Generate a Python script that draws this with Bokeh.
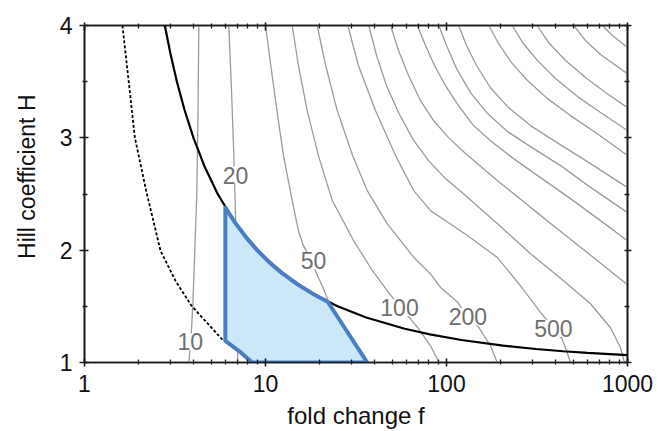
from bokeh.plotting import figure
from bokeh.models import (Range1d, FixedTicker, LogAxis, LinearAxis,
                          LabelSet, ColumnDataSource)
from bokeh.core.properties import value
from bokeh.embed import file_html
from bokeh.resources import INLINE

# ---------------- data ----------------
x_ticks = [1, 10, 100, 1000]
x_tick_labels = ["1", "10", "100", "1000"]
y_ticks = [1, 2, 3, 4]
y_minor = [1.5, 2.5, 3.5]

# contour lines (fold change f, Hill coefficient H)
c10_f = [4.28, 4.24, 4.17, 3.97, 3.89, 3.77]
c10_H = [4.0, 3.243, 2.485, 1.523, 1.256, 1.0]

c20_f = [6.27, 6.49, 6.68, 6.77, 6.87, 6.96, 7.03]
c20_H = [4.0, 3.421, 2.860, 2.530, 2.173, 1.550, 1.0]

c50_f = [10.0, 10.7, 11.57, 12.57, 14.05, 15.2, 16.2, 17.7, 19.4, 20.9, 22.3, 25.3, 27.7]
c50_H = [4.0, 3.644, 3.243, 2.842, 2.441, 2.173, 2.040, 1.924, 1.773, 1.657, 1.541, 1.282, 1.0]

c100_f = [14.05, 15.2, 17.0, 19.6, 23.4, 30.7, 39.0, 47.0, 55.7, 63.2, 70.3, 81.6, 90.9]
c100_H = [4.0, 3.644, 3.243, 2.842, 2.441, 2.084, 1.817, 1.639, 1.487, 1.389, 1.298, 1.149, 1.0]

c200_f = [19.3, 21.5, 24.9, 30.3, 36.5, 47.0, 65.9, 81.6, 92.7, 114.6, 130.6, 150.8, 175.0, 190.6]
c200_H = [4.0, 3.644, 3.243, 2.842, 2.530, 2.236, 1.936, 1.788, 1.668, 1.541, 1.407, 1.312, 1.149, 1.0]

c500_f = [28.5, 32.6, 40.5, 52.3, 65.9, 81.6, 105.2, 135.7, 190.6, 256.4, 330.6, 390.0, 435.5, 460.0, 484.0]
c500_H = [4.0, 3.644, 3.243, 2.842, 2.530, 2.352, 2.233, 2.111, 1.936, 1.683, 1.446, 1.308, 1.209, 1.104, 1.0]

c1k_f = [37.2, 41.1, 46.6, 54.3, 64.9, 79.5, 98.7, 124.1, 191.3, 291.1, 443.1, 624.7, 805.5, 914.9, 962.5]
c1k_H = [4.0, 3.733, 3.465, 3.225, 2.993, 2.797, 2.637, 2.503, 2.236, 1.969, 1.728, 1.523, 1.309, 1.131, 1.0]

c2k_f = [49.1, 54.3, 61.7, 71.8, 84.8, 102.6, 127.4, 191.3, 291.1, 443.1, 683.0, 1000.0]
c2k_H = [4.0, 3.777, 3.555, 3.332, 3.154, 3.002, 2.860, 2.619, 2.381, 2.147, 1.906, 1.692]

c5k_f = [68.9, 76.6, 85.8, 98.7, 116.5, 141.0, 175.0, 234.5, 330.6, 484.2, 709.5, 1000.0]
c5k_H = [4.0, 3.822, 3.644, 3.465, 3.287, 3.109, 2.975, 2.815, 2.646, 2.459, 2.263, 2.084]

c10k_f = [90.7, 100.0, 113.6, 135.7, 168.5, 217.3, 291.1, 426.5, 624.7, 1000.0]
c10k_H = [4.0, 3.822, 3.617, 3.403, 3.216, 3.056, 2.922, 2.753, 2.559, 2.334]

c20k_f = [116.9, 129.0, 146.5, 175.0, 220.1, 291.1, 400.2, 624.7, 1000.0]
c20k_H = [4.0, 3.822, 3.644, 3.446, 3.269, 3.109, 2.966, 2.770, 2.557]

c50k_f = [171.3, 193.8, 228.6, 280.2, 361.4, 484.2, 665.7, 1000.0]
c50k_H = [4.0, 3.840, 3.670, 3.510, 3.349, 3.198, 3.047, 2.842]

c100k_f = [230.7, 263.0, 318.3, 400.2, 529.5, 709.5, 1000.0]
c100k_H = [4.0, 3.849, 3.688, 3.528, 3.367, 3.225, 3.065]

c200k_f = [317.0, 366.0, 454.5, 586.1, 755.9, 1000.0]
c200k_H = [4.0, 3.849, 3.688, 3.537, 3.403, 3.269]

c500k_f = [505.0, 586.1, 709.5, 1000.0]
c500k_H = [4.0, 3.866, 3.742, 3.570]

c1m_f = [724.7, 826.2, 1000.0]
c1m_H = [4.0, 3.911, 3.804]

# contour labels
lab_text = ["10", "20", "50", "100", "200", "500"]
lab_f = [3.84, 6.83, 18.4, 55.0, 131.4, 390.0]
lab_H = [1.184, 2.668, 1.906, 1.487, 1.407, 1.305]

# solid black boundary
solid_f = [2.778, 2.983, 3.24, 3.568, 4.0, 4.592, 5.444, 6.76, 9.0, 12.25, 18.78, 25.0,
           36.0, 58.78, 81.0, 121.0, 205.4, 312.1, 441.0, 601.7, 1000.0]
solid_H = [4.0, 3.75, 3.5, 3.25, 3.0, 2.75, 2.5, 2.25, 2.0, 1.8, 1.6, 1.5,
           1.4, 1.3, 1.25, 1.2, 1.15, 1.12, 1.1, 1.085, 1.0653]

# dashed black boundary
dash_f = [1.62, 1.757, 1.896, 2.19, 2.63, 3.18, 3.90, 5.86]
dash_H = [4.0, 3.495, 3.005, 2.530, 1.995, 1.728, 1.505, 1.193]

# shaded region
region_f = [6.0, 6.76, 7.94, 9.0, 10.38, 12.25, 14.88, 18.78, 22.06, 36.5, 8.44, 7.12, 6.0]
region_H = [2.38, 2.25, 2.1, 2.0, 1.9, 1.8, 1.7, 1.6, 1.541, 1.0, 1.0, 1.104, 1.193]

contours = [(c10_f, c10_H), (c20_f, c20_H), (c50_f, c50_H), (c100_f, c100_H),
            (c200_f, c200_H), (c500_f, c500_H), (c1k_f, c1k_H), (c2k_f, c2k_H),
            (c5k_f, c5k_H), (c10k_f, c10k_H), (c20k_f, c20k_H), (c50k_f, c50k_H),
            (c100k_f, c100k_H), (c200k_f, c200k_H), (c500k_f, c500k_H), (c1m_f, c1m_H)]

# ---------------- figure ----------------
FONT = "Liberation Sans"
AX = "#1a1a1a"

p = figure(width=658, height=431, x_axis_type="log",
           x_range=Range1d(1, 1000), y_range=Range1d(1, 4),
           output_backend="svg", toolbar_location=None,
           min_border_left=84, min_border_right=31,
           min_border_top=25, min_border_bottom=69)
p.grid.visible = False
p.outline_line_color = AX
p.outline_line_width = 1.6
p.background_fill_color = "white"
p.border_fill_color = "white"

x_minor = [m * d for d in (1, 10, 100) for m in range(2, 10)]

def style_axis(ax, labels, tin, tout):
    ax.axis_line_color = AX
    ax.axis_line_width = 1.6
    ax.major_tick_line_color = AX
    ax.major_tick_line_width = 1.6
    ax.minor_tick_line_color = AX
    ax.minor_tick_line_width = 1.3
    ax.major_tick_in = tin
    ax.major_tick_out = tout
    ax.minor_tick_in = 3
    ax.minor_tick_out = 2
    if labels:
        ax.major_label_text_font = FONT
        ax.major_label_text_font_size = "23px"
        ax.major_label_text_color = "#111111"
        ax.axis_label_text_font = FONT
        ax.axis_label_text_font_style = "normal"
        ax.axis_label_text_color = "#111111"
    else:
        ax.major_label_text_font_size = "0px"
        ax.major_label_standoff = 0

xb = p.xaxis[0]
xb.ticker = FixedTicker(ticks=x_ticks, minor_ticks=x_minor)
xb.major_label_overrides = {t: s for t, s in zip(x_ticks, x_tick_labels)}
style_axis(xb, True, 4, 4)
xb.major_label_standoff = 8
xb.axis_label = "fold change f"
xb.axis_label_text_font_size = "24px"
xb.axis_label_standoff = 7

yl = p.yaxis[0]
yl.ticker = FixedTicker(ticks=y_ticks, minor_ticks=y_minor)
style_axis(yl, True, 4, 5)
yl.major_label_standoff = 7
# leading en-spaces move the centred title upwards, as in the reference
yl.axis_label = "\u2002\u2002\u2002Hill coefficient H"
yl.axis_label_text_font_size = "23px"
yl.axis_label_standoff = 17

xt = LogAxis(ticker=FixedTicker(ticks=x_ticks, minor_ticks=x_minor))
xt.major_label_overrides = {t: "" for t in x_ticks}
style_axis(xt, False, 5, 3)
p.add_layout(xt, "above")

yr = LinearAxis(ticker=FixedTicker(ticks=y_ticks, minor_ticks=y_minor))
yr.major_label_overrides = {t: "" for t in y_ticks}
style_axis(yr, False, 3, 4)
p.add_layout(yr, "right")

# contour lines
for cf, ch in contours:
    p.line(cf, ch, line_color="#9b9b9b", line_width=1.3)

# boundaries
p.line(solid_f, solid_H, line_color="black", line_width=2.2)
p.line(dash_f, dash_H, line_color="black", line_width=1.8, line_dash="3 2")

# shaded region
p.patch(region_f, region_H, fill_color="#cce8f8", line_color="#4a7dc3",
        line_width=4, line_join="round")

# contour labels
src = ColumnDataSource(dict(x=lab_f, y=lab_H, t=lab_text))
p.add_layout(LabelSet(x="x", y="y", text="t", source=src,
                      text_align="center", text_baseline="middle",
                      text_font=value(FONT), text_font_size=value("23px"),
                      text_color="#6f6f6f", background_fill_color="white"))

open("out.html", "w").write(file_html(p, INLINE))
